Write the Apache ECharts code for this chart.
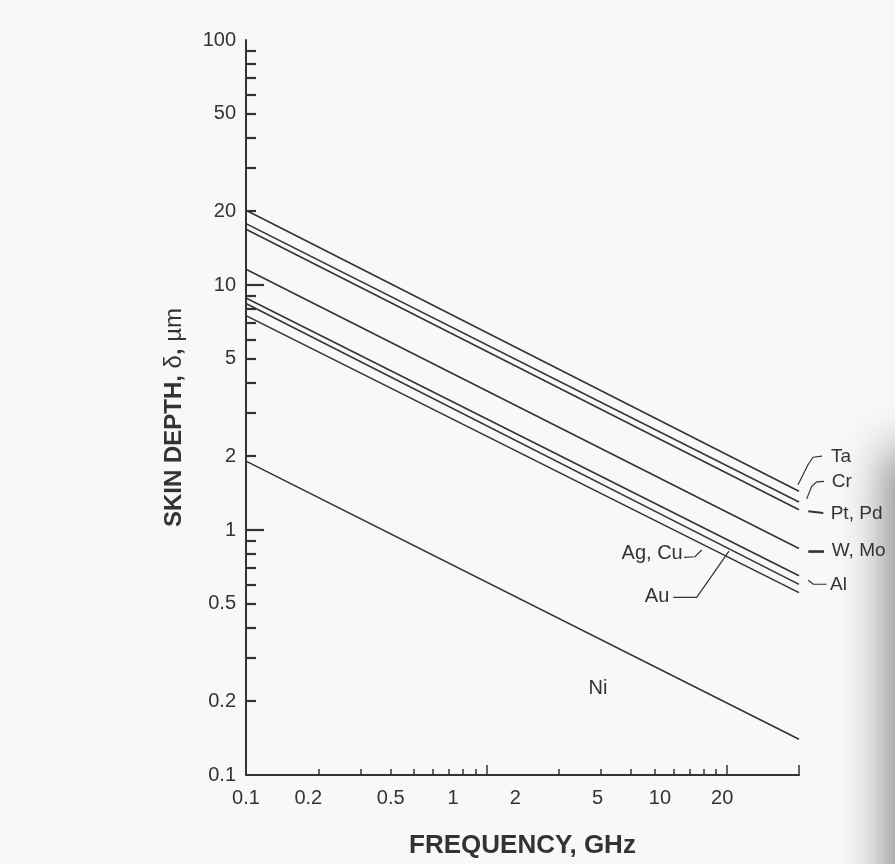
<!DOCTYPE html>
<html>
<head>
<meta charset="utf-8">
<script src="https://cdn.jsdelivr.net/npm/echarts@6/dist/echarts.min.js"></script>
<style>
  html, body { margin: 0; padding: 0; background: #f8f8f6; }
  #chart { width: 895px; height: 864px; }
</style>
</head>
<body>
<div id="chart"></div>
<script>
// Frequencies (GHz) at which each skin-depth line is evaluated
const freqGHz = [0.1, 20];

// Skin depth (µm) of each metal at those frequencies
const depthTa   = [20.2, 1.44];
const depthCr   = [17.8, 1.30];
const depthPtPd = [16.9, 1.21];
const depthWMo  = [11.6, 0.84];
const depthAl   = [8.85, 0.65];
const depthAu   = [8.4, 0.60];
const depthAgCu = [7.5, 0.555];
const depthNi   = [1.91, 0.14];

const metalNames = ['Ta', 'Cr', 'Pt, Pd', 'W, Mo', 'Al', 'Au', 'Ag, Cu', 'Ni'];
const metalDepths = [depthTa, depthCr, depthPtPd, depthWMo, depthAl, depthAu, depthAgCu, depthNi];

// Axis ticks and labels
const xTickLabels = [0.1, 0.2, 0.5, 1, 2, 5, 10, 20];
const xMajorTicks = [1, 10, 20];
const xMinorTicks = [0.2, 0.3, 0.4, 0.5, 0.6, 0.7, 0.8, 0.9, 2, 3, 4, 5, 6, 7, 8, 9];
const yTickLabels = [0.1, 0.2, 0.5, 1, 2, 5, 10, 20, 50, 100];
const yMajorTicks = [1, 10];
const yMinorTicks = [0.2, 0.3, 0.4, 0.5, 0.6, 0.7, 0.8, 0.9,
                     2, 3, 4, 5, 6, 7, 8, 9,
                     20, 30, 40, 50, 60, 70, 80, 90];

const FONT = "'Liberation Sans', Arial, Helvetica, sans-serif";
const INK = '#333333';

const chart = echarts.init(document.getElementById('chart'), null, { renderer: 'canvas' });

const labelText = { fontFamily: FONT, fontSize: 20, color: INK };

const option = {
  backgroundColor: '#f8f8f6',
  animation: false,
  grid: { left: 246, top: 40, width: 553, height: 735 },
  xAxis: [
    {
      type: 'log', logBase: 10, min: 0.1, max: 20, position: 'bottom',
      axisLine: { show: true, onZero: false, lineStyle: { color: INK, width: 2 } },
      axisTick: { show: true, inside: true, length: 10, customValues: xMajorTicks,
                  lineStyle: { color: INK, width: 1.5 } },
      axisLabel: { show: false },
      splitLine: { show: false },
      name: 'FREQUENCY, GHz', nameLocation: 'middle', nameGap: 58,
      nameTextStyle: { fontFamily: FONT, fontWeight: 'bold', fontSize: 26, color: INK }
    },
    {
      type: 'log', logBase: 10, min: 0.1, max: 20, position: 'bottom',
      axisLine: { show: false, onZero: false },
      axisTick: { show: true, inside: true, length: 6, customValues: xMinorTicks,
                  lineStyle: { color: INK, width: 1.5 } },
      axisLabel: { show: false },
      splitLine: { show: false }
    },
    {
      // tick-label scale printed under the axis
      type: 'log', logBase: 10, min: 0.1, max: 47, position: 'bottom',
      axisLine: { show: false, onZero: false },
      axisTick: { show: false },
      axisLabel: Object.assign({ show: true, margin: 13, customValues: xTickLabels,
                                 formatter: v => String(v) }, labelText),
      splitLine: { show: false }
    }
  ],
  yAxis: [
    {
      type: 'log', logBase: 10, min: 0.1, max: 100, position: 'left',
      axisLine: { show: true, onZero: false, lineStyle: { color: INK, width: 2 } },
      axisTick: { show: true, inside: true, length: 18, customValues: yMajorTicks,
                  lineStyle: { color: INK, width: 2.2 } },
      axisLabel: Object.assign({ show: true, margin: 10, customValues: yTickLabels,
                                 formatter: v => String(v) }, labelText),
      splitLine: { show: false },
      name: '{b|SKIN DEPTH, }{r|δ}{b|, }{r|µm}',
      nameLocation: 'middle', nameGap: 60,
      nameTextStyle: {
        padding: [0, 20, 0, 0],
        rich: {
          b: { fontFamily: FONT, fontWeight: 'bold', fontSize: 24, color: INK },
          r: { fontFamily: FONT, fontWeight: 'normal', fontSize: 24, color: INK }
        }
      }
    },
    {
      type: 'log', logBase: 10, min: 0.1, max: 100, position: 'left',
      axisLine: { show: false, onZero: false },
      axisTick: { show: true, inside: true, length: 10, customValues: yMinorTicks,
                  lineStyle: { color: INK, width: 2.2 } },
      axisLabel: { show: false },
      splitLine: { show: false }
    }
  ],
  series: metalNames.map((name, k) => ({
    type: 'line',
    name: name,
    xAxisIndex: 0,
    yAxisIndex: 0,
    data: freqGHz.map((f, i) => [f, metalDepths[k][i]]),
    symbol: 'none',
    silent: true,
    lineStyle: { color: INK, width: 1.6 }
  }))
};

chart.setOption(option);

// Callouts: leader strokes and names, offset in pixels from the 20 GHz end of each line
const callouts = {
  'Ta':     { leader: [[-1, -6.5], [9, -26.5], [14, -34], [23, -35]], width: 1.2, tx: 32, ty: -34, align: 'left', size: 19 },
  'Cr':     { leader: [[7.7, -3.2], [12.7, -15.8], [17.7, -20.2], [25, -20.8]], width: 1.2, tx: 32.7, ty: -20, align: 'left', size: 19 },
  'Pt, Pd': { leader: [[9.3, 1.5], [24.3, 3.2]], width: 2, tx: 31.7, ty: 4.5, align: 'left', size: 19 },
  'W, Mo':  { leader: [[9.3, 3], [25, 3]], width: 2.6, tx: 32.7, ty: 2, align: 'left', size: 19 },
  'Al':     { leader: [[9.3, 4.4], [14.3, 8.4], [27.7, 8.4]], width: 1.2, tx: 31, ty: 9.4, align: 'left', size: 19 },
  'Ag, Cu': { leader: [[-115, -35.3], [-104, -35.9], [-97.3, -42.6]], width: 1.2, tx: -116.3, ty: -39.3, align: 'right', size: 20 },
  'Au':     { leader: [[-125.7, 13], [-102.3, 13], [-70, -33.3]], width: 1.2, tx: -129.7, ty: 12.4, align: 'right', size: 20 },
  'Ni':     { leader: [], width: 1.2, tx: -201, ty: -51, align: 'center', size: 20 }
};

const graphics = [];
metalNames.forEach((name, k) => {
  const end = chart.convertToPixel({ xAxisIndex: 0, yAxisIndex: 0 },
                                   [freqGHz[freqGHz.length - 1], metalDepths[k][metalDepths[k].length - 1]]);
  const c = callouts[name];
  if (c.leader.length > 1) {
    graphics.push({
      type: 'polyline', silent: true,
      shape: { points: c.leader.map(p => [end[0] + p[0], end[1] + p[1]]) },
      style: { stroke: INK, lineWidth: c.width, fill: null }
    });
  }
  graphics.push({
    type: 'text', silent: true,
    x: end[0] + c.tx, y: end[1] + c.ty,
    style: { text: name, fontFamily: FONT, fontSize: c.size, fill: INK,
             align: c.align, verticalAlign: 'middle' }
  });
});

// soft darkened page edge along the lower right margin
graphics.push({
  type: 'rect', silent: true, z: -1,
  shape: { x: 900, y: 450, width: 60, height: 500 },
  style: {
    fill: 'rgba(135,135,135,1)',
    shadowBlur: 45,
    shadowOffsetX: -14,
    shadowColor: 'rgba(130,130,130,0.95)'
  }
});

chart.setOption({ graphic: graphics });
</script>
</body>
</html>
